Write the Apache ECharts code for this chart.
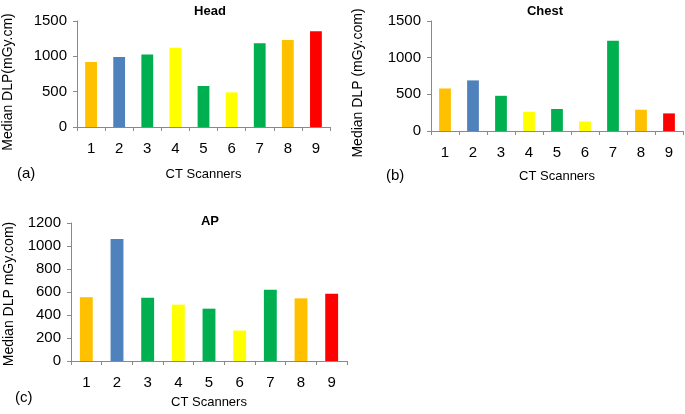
<!DOCTYPE html>
<html>
<head>
<meta charset="utf-8">
<script src="https://cdn.jsdelivr.net/npm/echarts@6/dist/echarts.min.js"></script>
<style>html,body{margin:0;padding:0;background:#fff}#c{width:685px;height:414px}</style>
</head>
<body>
<div id="c"></div>
<script>
const categories = ['1','2','3','4','5','6','7','8','9'];
const headValues = [920, 990, 1025, 1120, 580, 490, 1185, 1230, 1355];
const chestValues = [580, 690, 480, 262, 300, 130, 1230, 290, 240];
const apValues = [555, 1060, 550, 490, 455, 265, 620, 545, 585];
const barColors = ['#FFC000','#4F81BD','#00B050','#FFFF00','#00B050','#FFFF00','#00B050','#FFC000','#FF0000'];
const panelTitles = ['Head', 'Chest', 'AP'];
const yNames = ['Median DLP(mGy.cm)', 'Median DLP (mGy.com)', 'Median DLP mGy.com)'];
const xName = 'CT Scanners';
const panelLabels = ['(a)', '(b)', '(c)'];

const FONT = 'Liberation Sans, Arial, sans-serif';
const axisGrey = '#898989';

const grids = [
  {left: 77, top: 21, width: 253, height: 106},
  {left: 431, top: 21, width: 252, height: 110},
  {left: 71, top: 223, width: 276, height: 138}
];
const yMax = [1500, 1500, 1200];
const yInt = [500, 500, 200];
const xGap = [41, 39, 35];
const yGap = [62, 66, 55];
const yNamePad = [[0, 16, 0, 0], [0, 14, 0, 0], [0, 4, 0, 0]];
const seriesData = [headValues, chestValues, apValues];

const chart = echarts.init(document.getElementById('c'), null, {renderer: 'canvas'});

const option = {
  animation: false,
  backgroundColor: '#fff',
  textStyle: {fontFamily: FONT},
  title: panelTitles.map((t, i) => ({
    text: t,
    left: [205, 540, 205][i],
    top: [0, 0, 210][i],
    textAlign: 'center',
    textStyle: {fontFamily: FONT, fontSize: 13, fontWeight: 'bold', color: '#000'}
  })),
  grid: grids,
  xAxis: grids.map((g, i) => ({
    type: 'category',
    gridIndex: i,
    data: categories,
    name: xName,
    nameLocation: 'middle',
    nameGap: xGap[i],
    nameTextStyle: {fontFamily: FONT, fontSize: 13, color: '#000'},
    axisLine: {lineStyle: {color: axisGrey, width: 1}},
    axisTick: {show: true, length: 4, lineStyle: {color: axisGrey}},
    axisLabel: {fontFamily: FONT, fontSize: 15, color: '#000', margin: 14}
  })),
  yAxis: grids.map((g, i) => ({
    type: 'value',
    gridIndex: i,
    min: 0,
    max: yMax[i],
    interval: yInt[i],
    name: yNames[i],
    nameLocation: 'middle',
    nameGap: yGap[i],
    nameTextStyle: {fontFamily: FONT, fontSize: 14, color: '#000', padding: yNamePad[i]},
    splitLine: {show: false},
    axisLine: {show: true, lineStyle: {color: axisGrey, width: 1}},
    axisTick: {show: true, length: 4, lineStyle: {color: axisGrey}},
    axisLabel: {fontFamily: FONT, fontSize: 15, color: '#000', margin: 10, formatter: v => String(v)}
  })),
  series: seriesData.map((d, i) => ({
    type: 'bar',
    xAxisIndex: i,
    yAxisIndex: i,
    data: d,
    barWidth: '42%',
    itemStyle: {color: p => barColors[p.dataIndex]}
  })),
  graphic: panelLabels.map((t, i) => ({
    type: 'text',
    left: [17, 386, 15][i],
    top: [166, 168, 390][i],
    style: {text: t, font: '15px ' + FONT, fill: '#000'}
  }))
};
chart.setOption(option);
</script>
</body>
</html>
